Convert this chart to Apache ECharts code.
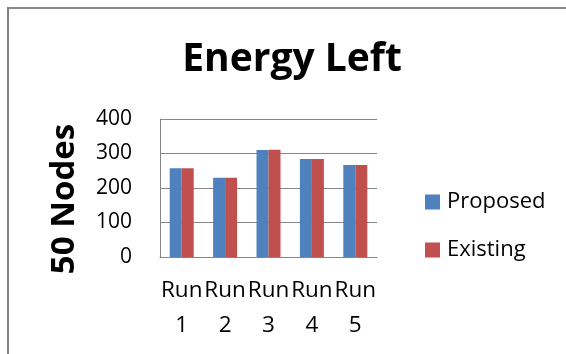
<!DOCTYPE html>
<html>
<head>
<meta charset="utf-8">
<script src="https://cdn.jsdelivr.net/npm/echarts@6/dist/echarts.min.js"></script>
<style>
  html, body { margin: 0; padding: 0; background: #fff; }
  #chart { width: 566px; height: 354px; }
</style>
</head>
<body>
<div id="chart"></div>
<script>
// Energy left after each run, 50-node network
const categories = ['Run\n1', 'Run\n2', 'Run\n3', 'Run\n4', 'Run\n5'];
const proposed = [257, 230, 310, 284, 267];
const existing = [257, 230, 311, 284, 267];
const yTicks = { min: 0, max: 400, interval: 100 };

const FONT = '"Open Sans", "Noto Sans", sans-serif';
const chart = echarts.init(document.getElementById('chart'), null, { renderer: 'canvas' });

chart.setOption({
  animation: false,
  backgroundColor: '#ffffff',
  title: {
    text: 'Energy Left',
    left: 287,
    top: 35,
    textAlign: 'center',
    textStyle: { fontFamily: FONT, fontWeight: 'bold', fontSize: 39, color: '#000' }
  },
  legend: {
    orient: 'vertical',
    left: 420,
    top: 186,
    itemWidth: 15,
    itemHeight: 15,
    itemGap: 26,
    icon: 'rect',
    textStyle: { fontFamily: FONT, fontSize: 22, color: '#000', padding: [0, 0, 0, 2] },
    data: ['Proposed', 'Existing']
  },
  grid: { left: 160, right: 189, top: 119, bottom: 97, containLabel: false },
  xAxis: {
    type: 'category',
    data: categories,
    axisLine: { lineStyle: { color: '#868686', width: 1 } },
    axisTick: { show: false },
    axisLabel: {
      interval: 0,
      margin: 16,
      fontFamily: FONT,
      fontSize: 22.5,
      lineHeight: 35,
      color: '#000'
    }
  },
  yAxis: {
    type: 'value',
    min: yTicks.min,
    max: yTicks.max,
    interval: yTicks.interval,
    axisLine: { show: true, lineStyle: { color: '#868686', width: 1 } },
    axisTick: { show: false },
    splitLine: { lineStyle: { color: '#868686', width: 1 } },
    axisLabel: { margin: 28, fontFamily: FONT, fontSize: 21, color: '#000' }
  },
  series: [
    {
      name: 'Proposed',
      type: 'bar',
      data: proposed,
      barWidth: 12,
      barGap: '0%',
      itemStyle: { color: '#4F81BD' }
    },
    {
      name: 'Existing',
      type: 'bar',
      data: existing,
      barWidth: 12,
      barGap: '0%',
      itemStyle: { color: '#C0504D' }
    }
  ],
  graphic: [
    // value-axis title, rotated
    {
      type: 'text',
      x: 65,
      y: 199,
      rotation: Math.PI / 2,
      style: {
        text: '50 Nodes',
        fontFamily: FONT,
        fontWeight: 'bold',
        fontSize: 33,
        fill: '#000',
        textAlign: 'center',
        textVerticalAlign: 'middle'
      }
    },
    // frame edges
    { type: 'line', shape: { x1: 7, y1: 8, x2: 566, y2: 8 }, style: { stroke: '#8a8a8a', lineWidth: 2 } },
    { type: 'line', shape: { x1: 8, y1: 7, x2: 8, y2: 354 }, style: { stroke: '#808080', lineWidth: 2 } }
  ]
});
</script>
</body>
</html>
